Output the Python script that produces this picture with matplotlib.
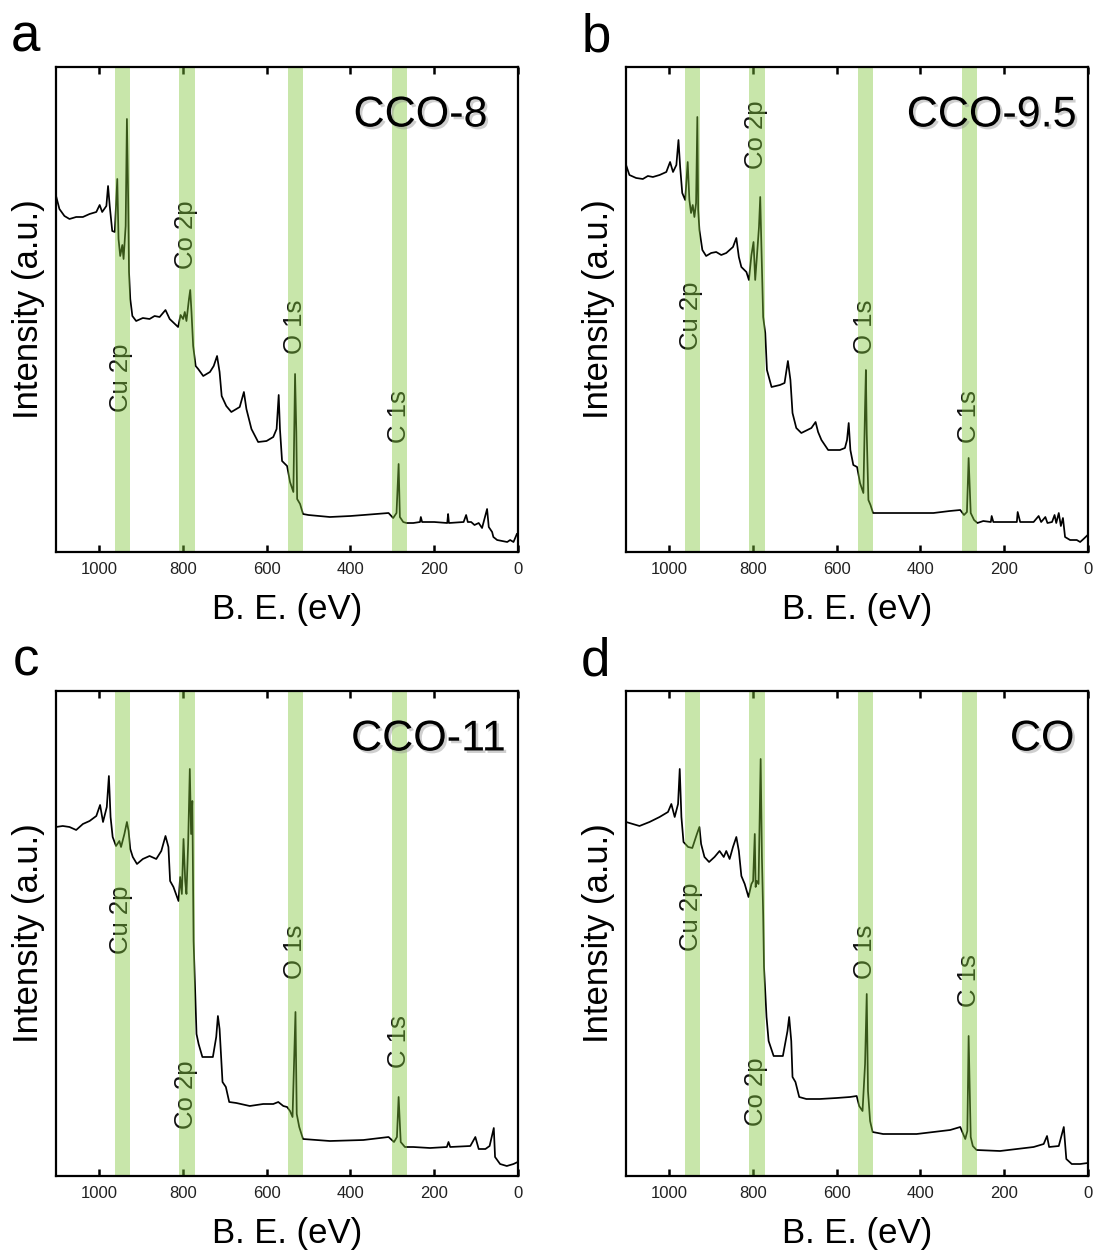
import matplotlib
matplotlib.use('Agg')
import matplotlib.pyplot as plt
import matplotlib.patheffects as pe
import numpy as np


# binding energy (eV) / intensity (a.u.)

a_be = [1102, 1094, 1082, 1070, 1054, 1038, 1022, 1006, 998, 992, 982, 978, 974, 968, 962, 956, 953, 949,
        944, 941, 936, 933, 930, 928, 925, 920, 911, 895, 879, 867, 855, 841, 831, 811, 805, 799, 795, 791,
        785, 782, 779, 775, 769, 763, 751, 735, 726, 718, 712, 707, 696, 684, 664, 654, 648, 636, 620, 600,
        584, 576, 571, 568, 563, 551, 544, 536, 532, 529, 527, 520, 513, 500, 449, 400, 369, 309, 298, 290,
        285, 282, 274, 266, 250, 234, 232, 229, 200, 169, 167, 165, 130, 124, 120, 112, 104, 94, 86, 74,
        70, 62, 59, 50, 26, 19, 11, 3]
a_int = [356, 343, 336, 333, 335, 335, 338, 340, 347, 340, 346, 366, 346, 321, 320, 373, 313, 296,
         307, 293, 326, 433, 353, 280, 253, 236, 231, 234, 233, 236, 235, 242, 233, 225, 237, 233, 240, 231,
         253, 262, 240, 206, 186, 183, 176, 180, 186, 196, 180, 156, 146, 140, 145, 160, 143, 123, 110, 111,
         115, 123, 157, 123, 91, 86, 70, 60, 178, 120, 53, 48, 38, 37, 35, 36, 37, 39, 34, 39,
         88, 35, 30, 29, 29, 30, 35, 30, 30, 29, 38, 29, 30, 37, 30, 30, 27, 29, 24, 43,
         25, 20, 15, 12, 10, 12, 10, 18]

b_be = [1102, 1094, 1078, 1062, 1050, 1038, 1022, 1006, 997, 990, 982, 977, 973, 968, 961, 955, 951, 947,
        943, 939, 935, 932, 930, 927, 920, 911, 899, 887, 875, 863, 847, 839, 833, 827, 815, 809, 803, 798,
        794, 790, 785, 782, 779, 775, 770, 766, 755, 735, 724, 716, 710, 705, 696, 684, 660, 650, 644, 636,
        620, 592, 580, 575, 571, 567, 560, 551, 544, 536, 532, 530, 528, 524, 519, 513, 500, 449, 400, 369,
        330, 305, 296, 289, 285, 280, 272, 264, 250, 232, 230, 226, 186, 170, 168, 162, 130, 118, 112, 102,
        97, 86, 80, 76, 70, 65, 60, 55, 43, 27, 19, 11, 1]
b_int = [387, 377, 374, 373, 376, 375, 377, 380, 390, 380, 387, 412, 385, 359, 352, 390, 352, 339,
         347, 335, 349, 435, 342, 322, 302, 296, 299, 300, 297, 299, 305, 314, 295, 285, 280, 272, 297, 310,
         272, 295, 325, 355, 302, 235, 219, 182, 165, 167, 169, 191, 172, 139, 124, 119, 124, 130, 120, 112,
         102, 102, 104, 112, 129, 102, 87, 85, 69, 59, 145, 182, 119, 52, 47, 39, 39, 39, 39, 39,
         41, 42, 37, 40, 94, 39, 32, 29, 31, 30, 36, 30, 30, 30, 40, 30, 30, 36, 30, 35,
         29, 30, 37, 29, 39, 26, 34, 15, 12, 12, 10, 13, 17]

c_be = [1102, 1086, 1070, 1054, 1038, 1022, 1006, 997, 990, 981, 976, 972, 967, 959, 951, 947, 939, 933,
        929, 925, 919, 909, 895, 879, 863, 851, 841, 834, 830, 822, 810, 806, 802, 798, 794, 791, 787, 783,
        780, 777, 774, 767, 762, 753, 728, 720, 716, 712, 705, 697, 689, 672, 640, 608, 584, 572, 560, 551,
        544, 538, 531, 528, 522, 513, 449, 369, 309, 296, 289, 285, 280, 270, 250, 210, 170, 166, 162, 114,
        102, 94, 78, 68, 58, 55, 43, 27, 11, 1]
c_int = [349, 350, 349, 346, 352, 355, 360, 371, 354, 369, 400, 359, 339, 330, 335, 329, 342, 354,
         345, 327, 319, 312, 317, 320, 317, 325, 340, 329, 295, 289, 275, 299, 282, 337, 295, 282, 332, 407,
         342, 375, 235, 142, 132, 119, 119, 139, 160, 147, 94, 89, 74, 73, 70, 72, 72, 74, 70, 69,
         65, 59, 164, 62, 49, 37, 35, 36, 39, 34, 39, 79, 34, 29, 29, 28, 29, 34, 29, 30,
         39, 27, 27, 30, 48, 19, 12, 10, 12, 14]

d_be = [1102, 1086, 1070, 1046, 1022, 1002, 994, 986, 978, 974, 970, 965, 954, 944, 933, 927, 923, 915,
        904, 891, 879, 869, 863, 855, 847, 839, 833, 827, 819, 810, 803, 799, 795, 793, 790, 786, 781, 778,
        775, 773, 767, 762, 750, 728, 717, 713, 708, 705, 698, 689, 672, 640, 600, 568, 552, 546, 538, 532,
        528, 525, 520, 514, 489, 409, 329, 305, 293, 288, 285, 280, 275, 266, 210, 130, 106, 98, 93, 70,
        58, 52, 39, 19, 1]
d_int = [354, 352, 350, 354, 359, 364, 372, 359, 372, 407, 359, 334, 329, 328, 342, 349, 332, 319,
         314, 319, 325, 319, 325, 317, 329, 339, 325, 300, 292, 279, 292, 295, 342, 289, 295, 292, 417, 319,
         262, 209, 159, 135, 120, 120, 145, 159, 135, 99, 94, 79, 77, 77, 78, 79, 80, 70, 65, 112,
         182, 85, 55, 44, 42, 42, 46, 49, 37, 45, 140, 39, 30, 26, 25, 29, 32, 40, 29, 30,
         49, 17, 12, 12, 13]

sample_names = ['CCO-8', 'CCO-9.5', 'CCO-11', 'CO']
panel_letters = ['a', 'b', 'c', 'd']

# highlighted regions and where their labels sit
band_names = ['Cu 2p', 'Co 2p', 'O 1s', 'C 1s']
band_lo = [925, 771, 512, 265]
band_hi = [962, 809, 550, 301]
label_be = [946, 791, 532, 285]
a_label_y = [174, 317, 225, 135]
b_label_y = [236, 417, 225, 135]
c_label_y = [256, 81, 224, 134]
d_label_y = [259, 84, 224, 195]


def main():

    plt.rcParams['font.family'] = ['Liberation Sans', 'DejaVu Sans']

    fig = plt.figure(figsize=(10.97, 12.52), dpi=100)

    spectra = [(a_be, a_int), (b_be, b_int), (c_be, c_int), (d_be, d_int)]
    label_ys = [a_label_y, b_label_y, c_label_y, d_label_y]
    name_x = [0.933, 0.974, 0.972, 0.970]

    # axes rectangles in figure fractions
    lefts = [0.0511, 0.5707, 0.0511, 0.5707]
    bottoms = [0.5591, 0.5591, 0.0607, 0.0607]
    w = 0.4212
    h = 0.3874

    for i in range(4):
        ax = fig.add_axes([lefts[i], bottoms[i], w, h])
        be, inten = spectra[i]
        ax.plot(be, inten, color='black', lw=1.25, zorder=2)

        for j in range(len(band_names)):
            ax.axvspan(band_lo[j], band_hi[j], color='#80c63a', alpha=0.43, lw=0, zorder=2.2)
            ax.text(label_be[j], label_ys[i][j], band_names[j], rotation=90, ha='center', va='center',
                    fontsize=18.5, color='#111111', zorder=1.9)

        ax.text(name_x[i], 0.90, sample_names[i], transform=ax.transAxes, ha='right', va='center',
                fontsize=31, color='black', zorder=4,
                path_effects=[pe.withSimplePatchShadow(offset=(1.8, -1.8), shadow_rgbFace='#888888', alpha=0.4)])

        ax.set_xlim(1102, 0)
        ax.set_ylim(0, 485)
        ax.set_xticks([1000, 800, 600, 400, 200, 0])
        ax.set_yticks([])
        ax.tick_params(axis='x', direction='in', top=True, length=5, width=1.8, pad=7,
                       labelsize=12, labelcolor='#222222')
        for s in ax.spines.values():
            s.set_linewidth(1.6)
        ax.set_xlabel('B. E. (eV)', fontsize=25, labelpad=12)
        ax.set_ylabel('Intensity (a.u.)', fontsize=25, labelpad=8)

        fig.text(lefts[i] - 0.0275, bottoms[i] + h + 0.012, panel_letters[i], ha='center', va='baseline',
                 fontsize=38)

    fig.savefig('out.png', dpi=100)


# don't run on import
if (__name__ == '__main__'):
    main()
